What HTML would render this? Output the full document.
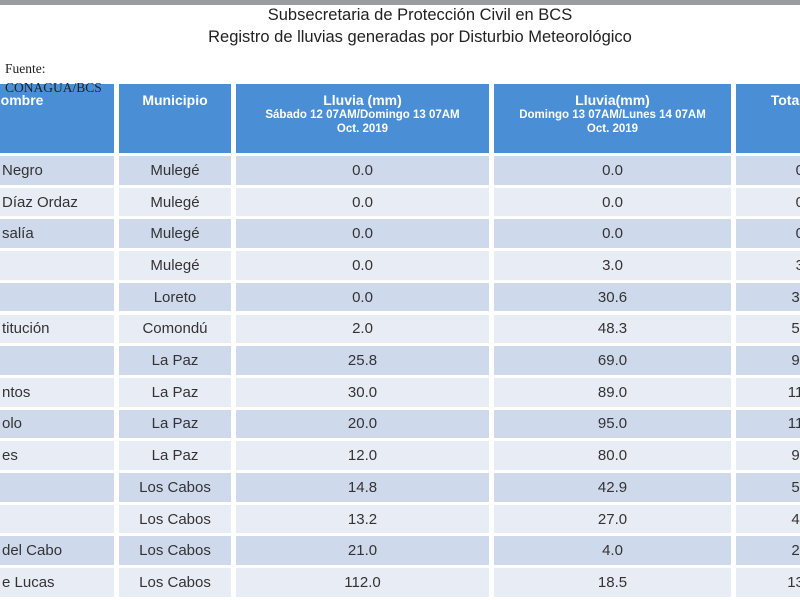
<!DOCTYPE html>
<html><head><meta charset="utf-8"><style>
html,body{margin:0;width:800px;height:600px;overflow:hidden;background:#fff}
body{font-family:"Liberation Sans",sans-serif}
#wrap{position:absolute;left:0;top:0;width:800px;height:600px;overflow:hidden}
.topbar{position:absolute;left:0;top:0;width:800px;height:5px;background:#9a9ca0}
.title{position:absolute;left:20px;width:800px;text-align:center;font-size:16.5px;color:#222}
.src{position:absolute;left:5px;font-family:"Liberation Serif",serif;font-size:13.5px;color:#222}
.cell{position:absolute;box-sizing:border-box;display:flex;align-items:center;justify-content:center;text-align:center;font-size:15px;color:#333}
.hd{background:#4a8fd6;color:#fff;font-weight:bold;flex-direction:column;justify-content:flex-start;padding-top:8px;font-size:14px;line-height:16px}
.hd small{font-size:11.5px;line-height:14px}
</style></head><body>
<div id="wrap">
<div class="topbar"></div>
<div class="title" style="top:6px">Subsecretaria de Protección Civil en BCS</div>
<div class="title" style="top:28px">Registro de lluvias generadas por Disturbio Meteorológico</div>
<div class="src" style="top:61px">Fuente:</div>
<div id="tbl"></div>
<div class="src" style="top:80px;z-index:5">CONAGUA/BCS</div>
</div>
<script>
const names=["Negro","Díaz Ordaz","salía","","","titución","","ntos","olo","es","","","del Cabo","e Lucas"];
const municipios=["Mulegé","Mulegé","Mulegé","Mulegé","Loreto","Comondú","La Paz","La Paz","La Paz","La Paz","Los Cabos","Los Cabos","Los Cabos","Los Cabos"];
const rain1=[0.0,0.0,0.0,0.0,0.0,2.0,25.8,30.0,20.0,12.0,14.8,13.2,21.0,112.0];
const rain2=[0.0,0.0,0.0,3.0,30.6,48.3,69.0,89.0,95.0,80.0,42.9,27.0,4.0,18.5];
const cols=[[-80,194],[119,112],[236,253],[494,237],[736,140]];
const t=document.getElementById('tbl');
function cell(x,y,w,h,html,cls,bg){const d=document.createElement('div');d.className='cell '+cls;d.style.cssText=`left:${x}px;top:${y}px;width:${w}px;height:${h}px;`+(bg?`background:${bg};`:'');d.innerHTML=html;t.appendChild(d);return d;}
const heads=["Nombre","Municipio","Lluvia (mm)<small>Sábado 12 07AM/Domingo 13 07AM<br>Oct. 2019</small>","Lluvia(mm)<small>Domingo 13 07AM/Lunes 14 07AM<br>Oct. 2019</small>","Total (mm)"];
const hn=["header-nombre","header-municipio","header-lluvia-sabado","header-lluvia-domingo","header-total"];
heads.forEach((h,i)=>{const d=cell(cols[i][0],84,cols[i][1],69,h,'hd');

});
const rh=31.7;
municipios.forEach((m,r)=>{const y=156+r*rh;const bg=r%2?'#e8ecf5':'#cfd9ec';
const vals=[names[r],m,rain1[r].toFixed(1),rain2[r].toFixed(1),(rain1[r]+rain2[r]).toFixed(1)];
vals.forEach((v,i)=>{const d=cell(cols[i][0],y,cols[i][1],rh-3,v,'',bg);
if(i==0){d.style.justifyContent='flex-start';d.style.paddingLeft='82px';}

});});
</script>
</body></html>
